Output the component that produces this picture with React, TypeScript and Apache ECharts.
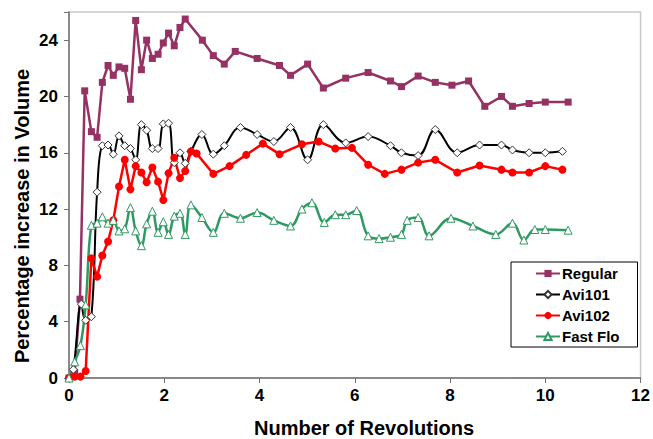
import React, { useEffect, useRef } from "react";
import * as echarts from "echarts";

const seriesNames = ["Regular", "Avi101", "Avi102", "Fast Flo"];

const regularX = [0, 0.12, 0.23, 0.33, 0.47, 0.59, 0.7, 0.82, 0.93, 1.05, 1.17, 1.29, 1.4, 1.52, 1.63, 1.75, 1.87, 1.98, 2.09, 2.21, 2.33, 2.44, 2.8, 3.03, 3.26, 3.49, 3.95, 4.42, 4.65, 5.01, 5.34, 5.81, 6.28, 6.75, 6.98, 7.33, 7.69, 8.04, 8.39, 8.73, 9.08, 9.31, 9.66, 10.0, 10.48];
const regularY = [0, 0.4, 5.6, 20.4, 17.5, 17.1, 21.0, 22.2, 21.5, 22.1, 22.0, 19.8, 25.4, 21.9, 24.0, 22.7, 23.0, 23.8, 24.5, 23.6, 24.9, 25.5, 24.0, 22.9, 22.3, 23.2, 22.7, 22.2, 21.5, 22.3, 20.6, 21.3, 21.7, 21.1, 20.7, 21.45, 21.0, 20.8, 21.1, 19.3, 20.0, 19.3, 19.5, 19.6, 19.6];

const avi101X = [0, 0.09, 0.26, 0.35, 0.47, 0.59, 0.7, 0.82, 0.93, 1.05, 1.17, 1.29, 1.4, 1.52, 1.63, 1.75, 1.87, 1.98, 2.09, 2.21, 2.33, 2.44, 2.56, 2.79, 3.03, 3.26, 3.6, 3.95, 4.3, 4.65, 5.01, 5.34, 5.81, 6.28, 6.75, 6.98, 7.33, 7.69, 8.15, 8.62, 9.08, 9.31, 9.66, 10.0, 10.36];
const avi101Y = [0, 0.6, 5.25, 4.1, 4.35, 13.2, 16.5, 16.55, 15.9, 17.2, 16.5, 16.3, 15.5, 18.0, 17.6, 16.3, 16.3, 18.05, 18.1, 15.3, 16.0, 15.25, 16.1, 17.3, 15.9, 16.5, 17.8, 17.3, 16.8, 17.8, 15.5, 18.0, 16.7, 17.15, 16.5, 16.0, 15.8, 17.65, 16.0, 16.55, 16.55, 16.2, 16.0, 16.0, 16.1];

const avi102X = [0, 0.12, 0.24, 0.35, 0.47, 0.59, 0.7, 0.82, 0.93, 1.05, 1.17, 1.29, 1.4, 1.52, 1.63, 1.75, 1.87, 1.98, 2.09, 2.21, 2.33, 2.44, 2.56, 2.68, 3.03, 3.37, 3.72, 4.07, 4.42, 4.89, 5.24, 5.59, 5.94, 6.28, 6.63, 6.98, 7.33, 7.69, 8.15, 8.62, 9.08, 9.31, 9.66, 10.0, 10.36];
const avi102Y = [0, 0.1, 0.1, 0.5, 8.5, 7.2, 8.7, 9.7, 11.2, 13.6, 15.5, 13.4, 15.05, 14.6, 13.9, 14.95, 13.95, 12.65, 14.55, 15.65, 14.2, 14.7, 16.1, 15.95, 14.5, 15.05, 15.85, 16.65, 15.9, 16.6, 16.8, 16.3, 16.35, 15.15, 14.5, 14.8, 15.3, 15.5, 14.6, 15.1, 14.8, 14.6, 14.6, 15.05, 14.8];

const fastFloX = [0, 0.12, 0.24, 0.35, 0.47, 0.59, 0.7, 0.82, 0.93, 1.05, 1.17, 1.29, 1.4, 1.52, 1.63, 1.75, 1.87, 1.98, 2.09, 2.21, 2.33, 2.44, 2.56, 2.79, 3.03, 3.26, 3.6, 3.95, 4.3, 4.65, 4.89, 5.1, 5.36, 5.59, 5.81, 6.04, 6.28, 6.51, 6.75, 6.98, 7.1, 7.33, 7.56, 8.02, 8.48, 8.96, 9.31, 9.55, 9.78, 10.0, 10.48];
const fastFloY = [0, 1.15, 2.3, 5.2, 10.85, 11.0, 11.45, 11.0, 11.2, 10.45, 10.6, 12.1, 10.45, 9.4, 10.95, 11.85, 10.35, 11.1, 10.2, 11.5, 11.7, 10.2, 12.3, 11.4, 10.35, 11.7, 11.35, 11.75, 11.2, 10.8, 12.0, 12.45, 11.05, 11.6, 11.6, 11.9, 10.1, 9.9, 10.0, 10.2, 11.2, 11.4, 10.1, 11.35, 10.8, 10.2, 11.0, 9.8, 10.55, 10.55, 10.5];

const xTicks = [0, 2, 4, 6, 8, 10, 12];
const yTicks = [0, 4, 8, 12, 16, 20, 24];

const zip = (xs: number[], ys: number[]) => xs.map((x, i) => [x, ys[i]]);

const FONT = "'Liberation Sans', Arial, sans-serif";

export default function App() {
  const ref = useRef<HTMLDivElement>(null);
  useEffect(() => {
    if (!ref.current) return;
    const chart = echarts.init(ref.current, undefined, { renderer: "svg" });
    const option = {
      animation: false,
      backgroundColor: "#ffffff",
      grid: {
        left: 69,
        right: 9,
        top: 12,
        bottom: 61,
        show: true,
        borderColor: "#c8c8c8",
        borderWidth: 1.5,
        backgroundColor: "#ffffff",
      },
      xAxis: {
        type: "value",
        min: xTicks[0],
        max: xTicks[xTicks.length - 1],
        interval: 2,
        axisLine: { show: true, lineStyle: { color: "#707070", width: 1.5 } },
        axisTick: { show: true, length: 5, lineStyle: { color: "#707070" } },
        splitLine: { show: false },
        axisLabel: { color: "#000", fontSize: 17, fontWeight: "bold", fontFamily: FONT, margin: 9 },
      },
      yAxis: {
        type: "value",
        min: yTicks[0],
        max: 26,
        interval: 4,
        axisLine: { show: true, lineStyle: { color: "#707070", width: 1.5 } },
        axisTick: { show: true, length: 5, lineStyle: { color: "#707070" } },
        splitLine: { show: false },
        axisLabel: {
          color: "#000",
          fontSize: 17,
          fontWeight: "bold",
          fontFamily: FONT,
          margin: 11,
          formatter: (v: number) => (yTicks.includes(v) ? String(v) : ""),
        },
      },
      legend: {
        orient: "vertical",
        left: 511,
        top: 262,
        data: seriesNames,
        backgroundColor: "#ffffff",
        borderColor: "#000000",
        borderWidth: 1,
        borderRadius: 0,
        padding: [4, 18, 3, 24],
        itemWidth: 24,
        itemHeight: 9,
        itemGap: 6,
        textStyle: { color: "#000", fontSize: 15, fontWeight: "bold", fontFamily: FONT, padding: [0, 0, 0, -3] },
      },
      graphic: [
        {
          type: "text",
          x: 22,
          y: 216,
          rotation: Math.PI / 2,
          style: {
            text: "Percentage increase in Volume",
            fontSize: 20,
            fontWeight: "bold",
            fontFamily: FONT,
            fill: "#000",
            textAlign: "center",
            textVerticalAlign: "middle",
          },
        },
        {
          type: "text",
          x: 364,
          y: 428,
          style: {
            text: "Number of Revolutions",
            fontSize: 20,
            fontWeight: "bold",
            fontFamily: FONT,
            fill: "#000",
            textAlign: "center",
            textVerticalAlign: "middle",
          },
        },
      ],
      series: [
        {
          name: seriesNames[0],
          type: "line",
          data: zip(regularX, regularY),
          symbol: "rect",
          symbolSize: 7,
          lineStyle: { color: "#953163", width: 2.5 },
          itemStyle: { color: "#953163" },
        },
        {
          name: seriesNames[1],
          type: "line",
          data: zip(avi101X, avi101Y),
          smooth: 0.4,
          symbol: "diamond",
          symbolSize: 8,
          lineStyle: { color: "#000000", width: 2 },
          itemStyle: { color: "#ffffff", borderColor: "#333333", borderWidth: 1 },
        },
        {
          name: seriesNames[2],
          type: "line",
          data: zip(avi102X, avi102Y),
          symbol: "circle",
          symbolSize: 8,
          lineStyle: { color: "#ff0000", width: 2.5 },
          itemStyle: { color: "#ff0000" },
        },
        {
          name: seriesNames[3],
          type: "line",
          data: zip(fastFloX, fastFloY),
          smooth: 0.4,
          symbol: "triangle",
          symbolSize: 8,
          lineStyle: { color: "#2e9a62", width: 2.5 },
          itemStyle: { color: "#ffffff", borderColor: "#2e9a62", borderWidth: 1 },
        },
      ],
    };
    chart.setOption(option as any);
    return () => chart.dispose();
  }, []);
  return (
    <div
      ref={ref}
      style={{ position: "fixed", left: 0, top: 0, width: 653, height: 439, background: "#fff" }}
    />
  );
}
